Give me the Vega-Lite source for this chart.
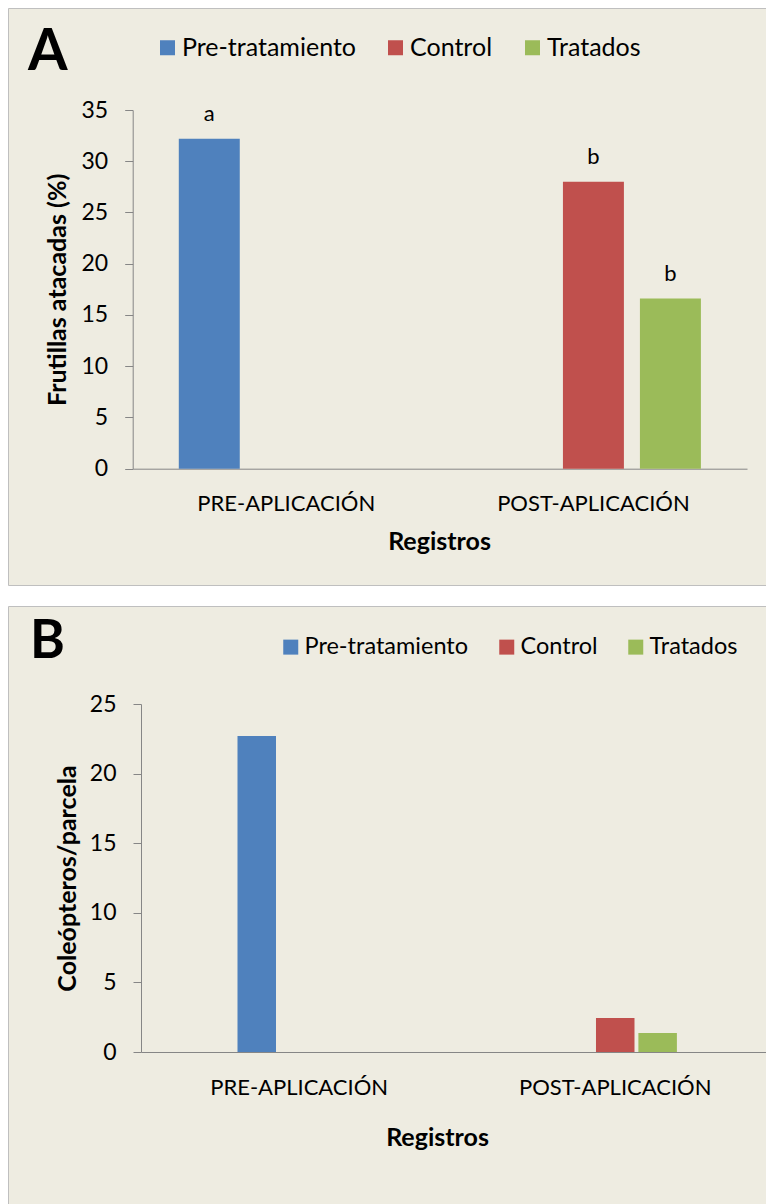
{
  "$schema": "https://vega.github.io/schema/vega-lite/v6.json",
  "background": "white",
  "padding": {"left": 7, "top": 7, "right": 0, "bottom": 0},
  "spacing": 19,
  "resolve": {"scale": {"color": "independent", "xOffset": "independent", "x": "independent", "y": "independent"}, "legend": {"color": "independent"}},
  "datasets": {
    "A": [
      {"registro": "PRE-APLICACIÓN", "grupo": "Pre-tratamiento", "valor": 32.2, "letra": "a"},
      {"registro": "POST-APLICACIÓN", "grupo": "Control", "valor": 28.0, "letra": "b"},
      {"registro": "POST-APLICACIÓN", "grupo": "Tratados", "valor": 16.6, "letra": "b"}
    ],
    "B": [
      {"registro": "PRE-APLICACIÓN", "grupo": "Pre-tratamiento", "valor": 22.7},
      {"registro": "POST-APLICACIÓN", "grupo": "Control", "valor": 2.45},
      {"registro": "POST-APLICACIÓN", "grupo": "Tratados", "valor": 1.37}
    ]
  },
  "config": {
    "font": "Lato",
    "view": {"fill": "#EEECE1", "stroke": "#BFBFBF", "strokeWidth": 1},
    "axis": {"domainColor": "#868686", "tickColor": "#868686", "labelColor": "#000000", "titleColor": "#000000", "grid": false, "labelFont": "Lato", "titleFont": "Lato", "labelLimit": 0, "titleLimit": 0},
    "legend": {"labelFont": "Lato", "labelColor": "#000000", "labelLimit": 0},
    "title": {"color": "#000000", "font": "Lato"}
  },
  "vconcat": [
    {
      "width": 759,
      "height": 577,
      "title": {"text": "A", "anchor": "start", "frame": "group", "orient": "top", "offset": -119, "dx": 20, "baseline": "alphabetic", "fontSize": 57, "fontWeight": "bold"},
      "data": {"name": "A"},
      "encoding": {
        "x": {
          "field": "registro", "type": "nominal",
          "scale": {"domain": ["PRE-APLICACIÓN", "POST-APLICACIÓN"], "range": [124.7, 739], "paddingInner": 0.248, "paddingOuter": 0.124},
          "axis": {"title": "Registros", "labelAngle": 0, "ticks": false, "tickSize": 0, "labelPadding": 42, "labelBaseline": "alphabetic", "labelFontSize": 22, "offset": -116.3, "titleFontSize": 25, "titleFontWeight": "bold", "titleBaseline": "alphabetic", "titleY": 81, "titleX": 431}
        },
        "xOffset": {"field": "grupo", "type": "nominal", "scale": {"domain": ["Pre-tratamiento", "Control", "Tratados"], "paddingInner": 0.208, "paddingOuter": 0.104}},
        "y": {
          "field": "valor", "type": "quantitative",
          "scale": {"domain": [0, 35], "range": [460.7, 102], "nice": false},
          "axis": {"title": "Frutillas atacadas (%)", "values": [0, 5, 10, 15, 20, 25, 30, 35], "tickSize": 8, "labelPadding": 17, "labelFontSize": 23, "offset": -124.7, "titleFontSize": 25, "titleFontWeight": "bold", "titleX": -75, "titleBaseline": "middle"}
        }
      },
      "layer": [
        {
          "mark": {"type": "bar"},
          "encoding": {
            "color": {
              "field": "grupo", "type": "nominal",
              "scale": {"domain": ["Pre-tratamiento", "Control", "Tratados"], "range": ["#4F81BD", "#C0504D", "#9BBB59"]},
              "legend": {"orient": "none", "legendX": 147, "legendY": 27, "direction": "horizontal", "title": null, "symbolType": "square", "symbolSize": 225, "symbolStrokeWidth": 0, "symbolOpacity": 1, "labelFontSize": 25, "labelOffset": 2, "columnPadding": 27, "padding": 0}
            }
          }
        },
        {
          "mark": {"type": "text", "dy": -18, "baseline": "alphabetic", "fontSize": 22, "color": "#000000"},
          "encoding": {"text": {"field": "letra"}}
        }
      ]
    },
    {
      "width": 759,
      "height": 601,
      "title": {"text": "B", "anchor": "start", "frame": "group", "orient": "top", "offset": -105, "dx": 22, "baseline": "alphabetic", "fontSize": 53, "fontWeight": "bold"},
      "data": {"name": "B"},
      "mark": {"type": "bar"},
      "encoding": {
        "x": {
          "field": "registro", "type": "nominal",
          "scale": {"domain": ["PRE-APLICACIÓN", "POST-APLICACIÓN"], "range": [133, 759], "paddingInner": 0.5975, "paddingOuter": 0.289, "align": 0.5175},
          "axis": {"title": "Registros", "labelAngle": 0, "ticks": false, "tickSize": 0, "labelPadding": 42, "labelBaseline": "alphabetic", "labelFontSize": 22, "offset": -155, "titleFontSize": 25, "titleFontWeight": "bold", "titleBaseline": "alphabetic", "titleY": 93.5, "titleX": 429}
        },
        "xOffset": {"field": "grupo", "type": "nominal", "scale": {"domain": ["Pre-tratamiento", "Control", "Tratados"], "paddingInner": 0.092, "paddingOuter": 0.046}},
        "y": {
          "field": "valor", "type": "quantitative",
          "scale": {"domain": [0, 25], "range": [446, 98], "nice": false},
          "axis": {"title": "Coleópteros/parcela", "values": [0, 5, 10, 15, 20, 25], "tickSize": 8, "labelPadding": 17, "labelFontSize": 23, "offset": -133, "titleFontSize": 25, "titleFontWeight": "bold", "titleX": -74, "titleBaseline": "middle"}
        },
        "color": {
          "field": "grupo", "type": "nominal",
          "scale": {"domain": ["Pre-tratamiento", "Control", "Tratados"], "range": ["#4F81BD", "#C0504D", "#9BBB59"]},
          "legend": {"orient": "none", "legendX": 271, "legendY": 29, "direction": "horizontal", "title": null, "symbolType": "square", "symbolSize": 225, "symbolStrokeWidth": 0, "symbolOpacity": 1, "labelFontSize": 23.5, "labelOffset": 2, "columnPadding": 26, "padding": 0}
        }
      }
    }
  ]
}
